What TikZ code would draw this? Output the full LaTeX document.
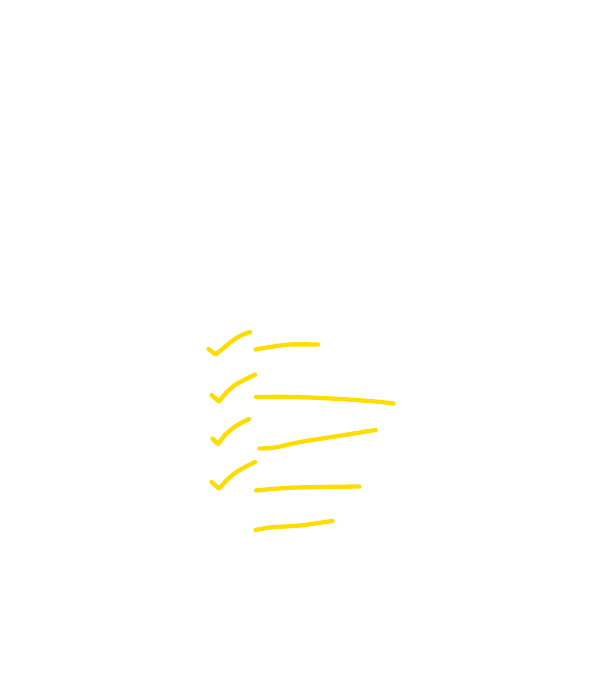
\documentclass[tikz,border=0pt]{standalone}
\tikzset{
  pen/.style={draw={rgb,255:red,255;green,221;blue,0}, line width=4.3pt, line cap=round, line join=round}
}
\begin{document}
\begin{tikzpicture}[x=1pt,y=-1pt]
\useasboundingbox (0,0) rectangle (605,680);
\fill[white] (0,0) rectangle (605,680);
% ticks
\draw[pen] (208.5,349) -- plot[smooth,tension=0.5] coordinates {(215.5,354.5) (223,348.5) (232,341) (241,335.5) (250,332)};
\draw[pen] (211.5,395) -- plot[smooth,tension=0.5] coordinates {(219,401.5) (226,393) (235,385) (245,379.5) (255,374.5)};
\draw[pen] (212.5,438.5) -- plot[smooth,tension=0.5] coordinates {(218,444) (225,435) (233,428) (241,423) (249,419)};
\draw[pen] (211.5,482) -- plot[smooth,tension=0.5] coordinates {(219,488.5) (226,481) (235,473) (245,467) (255,462)};
% lines
\draw[pen] plot[smooth,tension=0.5] coordinates {(255.5,349.5) (270,347) (290,344.5) (318,344.5)};
\draw[pen] plot[smooth,tension=0.5] coordinates {(256,397) (295,397) (340,399) (375,401.5) (393.5,403.5)};
\draw[pen] plot[smooth,tension=0.5] coordinates {(259.5,448.5) (275,447.5) (300,442) (335,436.5) (375.5,430)};
\draw[pen] plot[smooth,tension=0.5] coordinates {(256,490.5) (285,488) (320,487) (359.5,486.5)};
\draw[pen] plot[smooth,tension=0.5] coordinates {(255.5,530) (270,527.5) (300,525.5) (318,523) (332.5,521)};
\end{tikzpicture}
\end{document}
